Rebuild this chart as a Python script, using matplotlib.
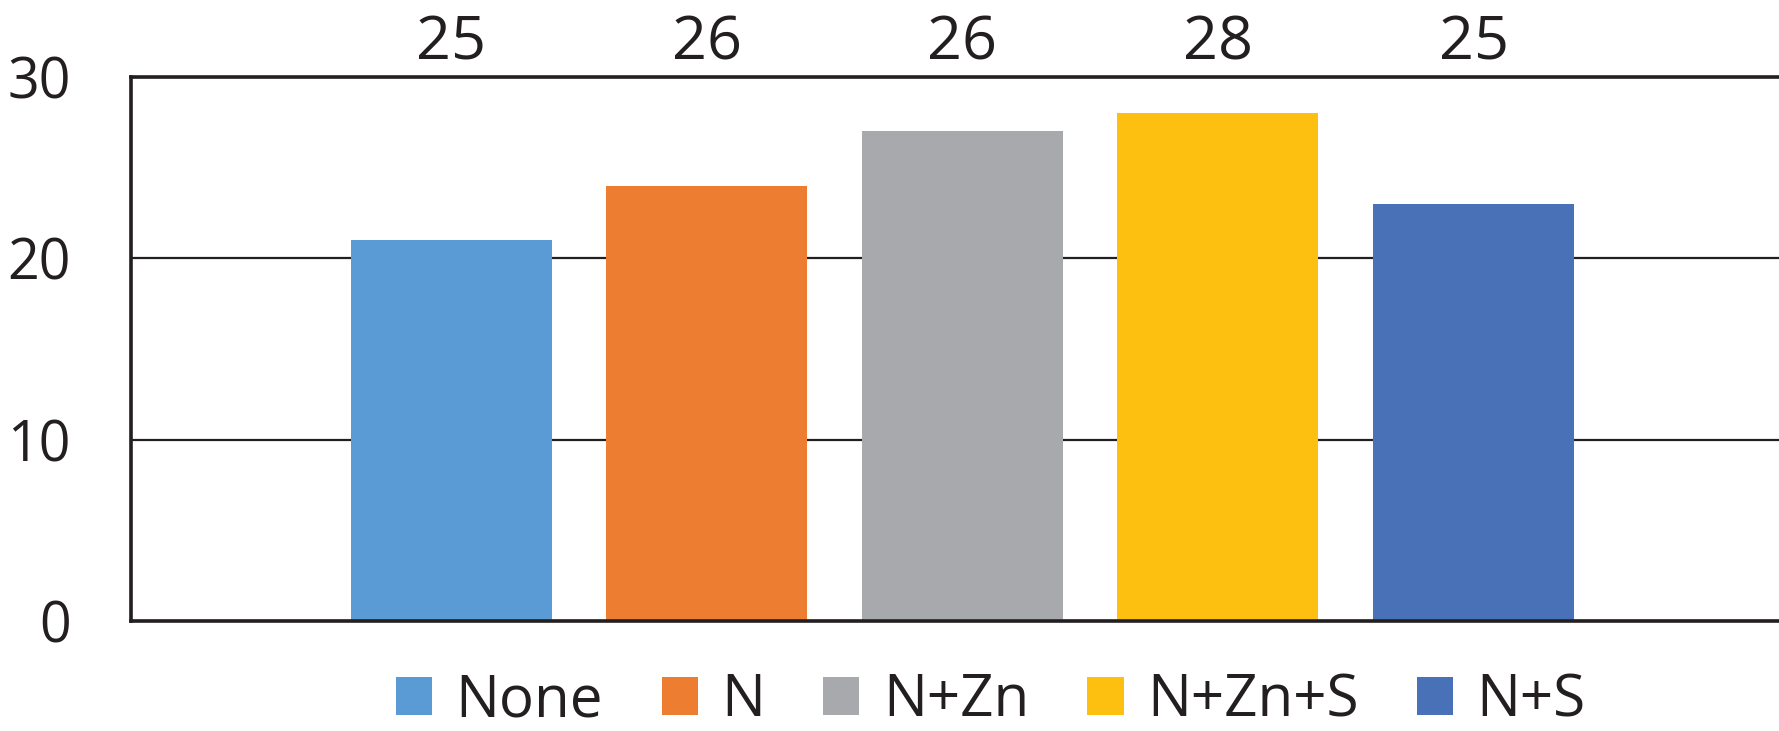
import matplotlib.pyplot as plt
from matplotlib.patches import Patch
import matplotlib.transforms as mtransforms

plt.rcParams['font.family'] = ['Open Sans', 'DejaVu Sans']

treatments = ['None', 'N', 'N+Zn', 'N+Zn+S', 'N+S']
heights = [21, 24, 27, 28, 23]
top_labels = ['25', '26', '26', '28', '25']
colors = ['#5B9BD5', '#ED7D31', '#A7A9AC', '#FDC010', '#4871B7']
ink = '#231F20'

fig = plt.figure(figsize=(17.79, 7.31), dpi=100)
ax = fig.add_axes([0.0734, 0.1505, 0.9266, 0.7442])

x = list(range(len(treatments)))
ax.bar(x, heights, width=0.786, color=colors, zorder=3)

ax.set_xlim(-1.254, 5.195)
ax.set_ylim(0, 30)
ax.set_yticks([0, 10, 20, 30])
ax.set_xticks([])
ax.tick_params(axis='y', length=0, pad=43, labelsize=40, labelcolor=ink)
ax.yaxis.grid(True, color=ink, linewidth=1.6, zorder=1)

for side in ['left', 'bottom', 'top']:
    ax.spines[side].set_color(ink)
    ax.spines[side].set_linewidth(2.6)
    ax.spines[side].set_zorder(4)
ax.spines['right'].set_visible(False)

# numbers printed in a row above the frame
trans = mtransforms.blended_transform_factory(ax.transData, ax.transAxes)
for xi, lab in zip(x, top_labels):
    ax.text(xi, 1.062, lab, transform=trans, ha='center', va='center',
            fontsize=44, color=ink)

handles = [Patch(facecolor=c, label=t) for c, t in zip(colors, treatments)]
fig.legend(handles=handles, loc='center', bbox_to_anchor=(0.557, 0.041),
           ncol=5, frameon=False, fontsize=42, handlelength=0.62,
           handleheight=0.62, handletextpad=0.4, columnspacing=1.0,
           labelcolor=ink)

fig.savefig('out.png', dpi=100)
